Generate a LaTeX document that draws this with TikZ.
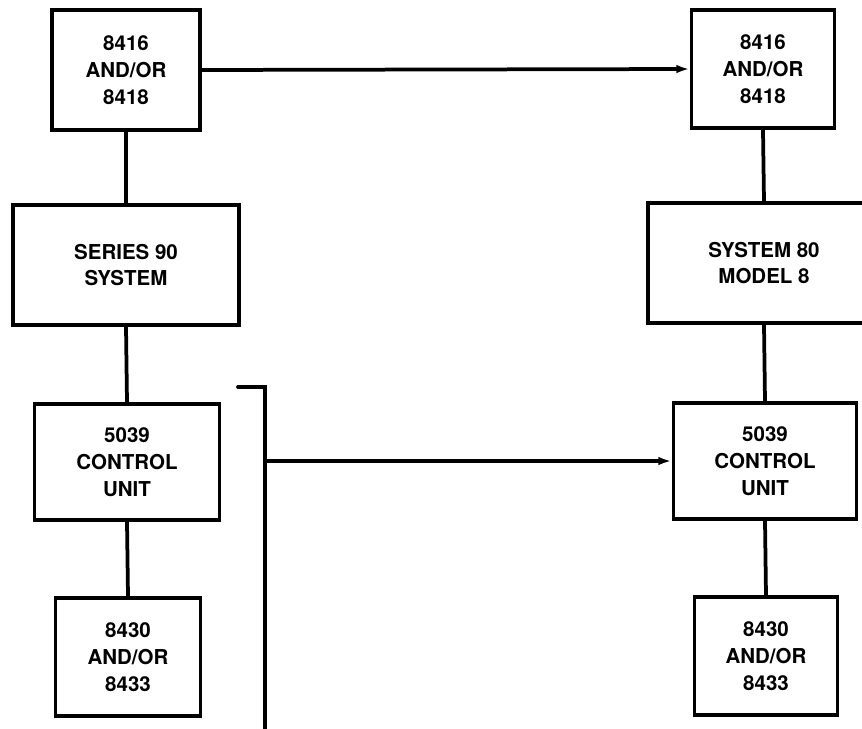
\documentclass[tikz,border=0pt]{standalone}
\usepackage{fontspec}
\setmainfont{TeX Gyre Heros}
\usetikzlibrary{arrows.meta}
\begin{document}
\begin{tikzpicture}[x=0.03cm,y=-0.03cm,
  box/.style={draw, line width=3.2pt, inner sep=0pt, align=center,
    font=\fontsize{17.5}{23}\selectfont\bfseries},
  link/.style={line width=3.2pt},
  arr/.style={line width=3.2pt, -{Latex[length=0.4cm,width=0.26cm]}}]
\useasboundingbox (0,0) rectangle (862,729);
\clip (0,0) rectangle (862,729);
% left column
\node[box, minimum width=4.44cm, minimum height=3.6cm] (A1) at (126,70) {8416\\AND/OR\\8418};
\node[box, minimum width=6.78cm, minimum height=3.6cm] (A2) at (126,265) {SERIES 90\\SYSTEM};
\node[box, minimum width=5.55cm, minimum height=3.48cm] (A3) at (127,462) {5039\\CONTROL\\UNIT};
\node[box, minimum width=4.35cm, minimum height=3.54cm] (A4) at (128,657) {8430\\AND/OR\\8433};
% right column
\node[box, minimum width=4.29cm, minimum height=3.54cm] (B1) at (763,69) {8416\\AND/OR\\8418};
\node[box, minimum width=6.96cm, minimum height=3.6cm] (B2) at (764,263) {SYSTEM 80\\MODEL 8};
\node[box, minimum width=5.49cm, minimum height=3.48cm] (B3) at (765,461) {5039\\CONTROL\\UNIT};
\node[box, minimum width=4.29cm, minimum height=3.54cm] (B4) at (766,656) {8430\\AND/OR\\8433};
% vertical links
\draw[link] (A1.south) -- (A2.north);
\draw[link] (A2.south) -- (A3.north);
\draw[link] (A3.south) -- (A4.north);
\draw[link] (B1.south) -- (B2.north);
\draw[link] (B2.south) -- (B3.north);
\draw[link] (B3.south) -- (B4.north);
% arrows
\draw[arr] (A1.east) -- (B1.west);
\coordinate (hookL) at (238,387);
\coordinate (hookR) at (265,387);
\coordinate (barEnd) at (265,729);
\coordinate (tap) at (265,461);
\draw[link, line cap=round] (hookL) -- (hookR) -- (barEnd);
\draw[arr] (tap) -- (B3.west);
\end{tikzpicture}
\end{document}
